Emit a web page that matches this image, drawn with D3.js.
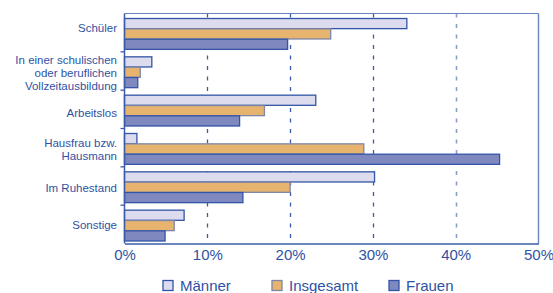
<!DOCTYPE html>
<html><head><meta charset="utf-8">
<script src="https://cdn.jsdelivr.net/npm/d3@7"></script>
<style>
body{margin:0;background:#fff;}
svg{display:block;font-family:"Liberation Sans",Arial,sans-serif;}
</style></head>
<body>
<svg id="c" width="553" height="293"></svg>
<script>
const categories = [
  ["Schüler"],
  ["In einer schulischen","oder beruflichen","Vollzeitausbildung"],
  ["Arbeitslos"],
  ["Hausfrau bzw.","Hausmann"],
  ["Im Ruhestand"],
  ["Sonstige"]
];
const seriesNames = ["Männer","Insgesamt","Frauen"];
const maenner   = [34.1, 3.3, 23.1, 1.5, 30.2, 7.2];
const insgesamt = [24.9, 1.9, 16.9, 28.9, 20.0, 6.0];
const frauen    = [19.7, 1.6, 13.9, 45.3, 14.3, 4.9];
const tickValues = [0,10,20,30,40,50];

const fills   = ["#dcdcee","#e6b46e","#8088c0"];
const strokes = ["#3355a6","#7d86a8","#3355a6"];
const textCol = "#2f52a3";
const axisCol = "#3a5ca8";
const labelShift = [-4.5, 1.5, 4, 2, 1.5, 1];

const svg = d3.select("#c");
const M = {l:124.5, r:538.5, t:13.5, b:243.5};
const x = d3.scaleLinear().domain([0,50]).range([M.l, M.r]);
const y = d3.scaleBand().domain(d3.range(categories.length)).range([M.t, M.b]);
const inner = d3.scaleBand().domain(d3.range(3)).range([5, y.bandwidth()-2.5]).paddingInner(0.02);

// gridlines
svg.append("g").selectAll("line").data([10,20,30,40]).join("line")
  .attr("x1",d=>Math.round(x(d))+0.5).attr("x2",d=>Math.round(x(d))+0.5)
  .attr("y1",M.t).attr("y2",M.b)
  .attr("stroke",d=>d===40?"#8b9dc6":axisCol)
  .attr("stroke-width",d=>d===40?1.6:1.3)
  .attr("stroke-dasharray","4,6.5");

// frame
svg.append("line").attr("x1",M.l).attr("x2",M.r).attr("y1",M.t).attr("y2",M.t)
  .attr("stroke","#6a86bf").attr("stroke-width",1.2);
svg.append("line").attr("x1",M.r).attr("x2",M.r).attr("y1",M.t).attr("y2",M.b)
  .attr("stroke","#6a86bf").attr("stroke-width",1.4);

const data = [maenner, insgesamt, frauen];
const g = svg.append("g");
categories.forEach((c,i)=>{
  data.forEach((s,j)=>{
    g.append("rect")
      .attr("x",x(0)).attr("y",y(i)+inner(j))
      .attr("width",x(s[i])-x(0)).attr("height",inner.bandwidth())
      .attr("fill",fills[j]).attr("stroke",strokes[j]).attr("stroke-width",1.3);
  });
});

// left axis
svg.append("line").attr("x1",M.l).attr("x2",M.l).attr("y1",M.t).attr("y2",M.b)
  .attr("stroke",axisCol).attr("stroke-width",1.5);
svg.append("g").selectAll("line").data(d3.range(1,categories.length)).join("line")
  .attr("x1",M.l-4).attr("x2",M.l).attr("y1",d=>y(d)).attr("y2",d=>y(d))
  .attr("stroke",axisCol).attr("stroke-width",1.3);

// bottom axis
const xAxis = d3.axisBottom(x).tickValues(tickValues).tickFormat(d=>d+"%").tickSize(0).tickPadding(6);
const ax = svg.append("g").attr("transform",`translate(0,${M.b})`).call(xAxis);
ax.select(".domain").attr("stroke",axisCol).attr("stroke-width",1.5);
ax.selectAll("text").attr("fill",textCol).attr("font-size",15).attr("font-family","Liberation Sans, Arial, sans-serif");

// category labels
categories.forEach((lines,i)=>{
  const cy = y(i)+y.bandwidth()/2 + labelShift[i];
  const lh = 13;
  const t = svg.append("text").attr("text-anchor","end").attr("fill",textCol).attr("font-size",11.5);
  lines.forEach((ln,k)=>{
    t.append("tspan").attr("x",117).attr("y",cy + (k-(lines.length-1)/2)*lh).attr("dy","0.35em").text(ln);
  });
});

// legend
const legX = [163, 272, 389];
const leg = svg.append("g").selectAll("g").data(seriesNames).join("g")
  .attr("transform",(d,i)=>`translate(${legX[i]},280.5)`);
leg.append("rect").attr("width",10).attr("height",10)
  .attr("fill",(d,i)=>fills[i]).attr("stroke",(d,i)=>strokes[i]).attr("stroke-width",1.3);
leg.append("text").attr("x",17).attr("y",5).attr("dy","0.36em")
  .attr("fill",textCol).attr("font-size",15).text(d=>d);
</script>
</body></html>
